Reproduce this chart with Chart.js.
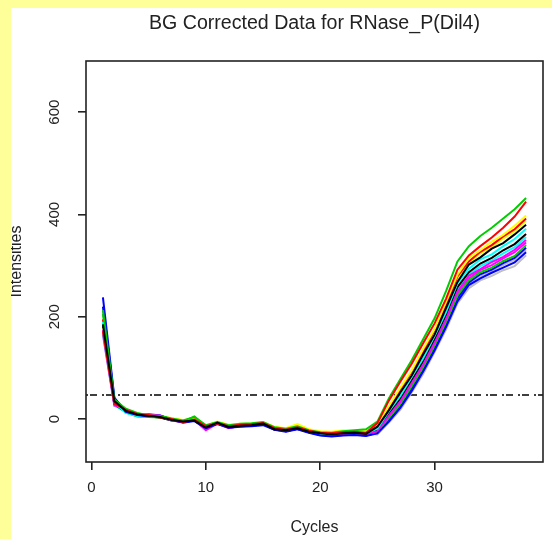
<!DOCTYPE html>
<html>
<head>
<meta charset="utf-8">
<script src="https://cdn.jsdelivr.net/npm/chart.js@4/dist/chart.umd.min.js"></script>
<style>
  body { margin: 0; background: #ffff99; width: 552px; height: 539px; overflow: hidden; }
  #panel { position: absolute; left: 11px; top: 8px; width: 541px; height: 531px; background: #fff; }
  canvas { display: block; }
</style>
</head>
<body>
<div id="panel"><canvas id="chart" width="541" height="531"></canvas></div>
<script>
// --- data ---
const chartTitle = "BG Corrected Data for RNase_P(Dil4)";
const xTitle = "Cycles";
const yTitle = "Intensities";
const xTicks = [0, 10, 20, 30];
const yTicks = [0, 200, 400, 600];
const threshold = 47;

const cycles = [1, 2, 3, 4, 5, 6, 7, 8, 9, 10, 11, 12, 13, 14, 15, 16, 17, 18, 19,
  20, 21, 22, 23, 24, 25, 26, 27, 28, 29, 30, 31, 32, 33, 34, 35, 36, 37, 38];

const black1 = [185, 35, 16, 9, 6, 4, -2, -5, -3, -17, -7, -16, -13, -12, -9, -20, -22, -18, -25, -28, -30, -28, -27, -29, -15, 17, 52, 85, 126, 165, 217, 268, 302, 316, 333, 344, 361, 380];
const red1 = [172, 30, 18, 10, 8, 3, 0, -6, -1, -14, -9, -14, -11, -10, -8, -18, -21, -16, -23, -27, -28, -26, -25, -27, -8, 36, 73, 108, 148, 187, 235, 292, 320, 338, 355, 374, 396, 425];
const green1 = [213, 38, 20, 12, 7, 6, 1, -3, 4, -12, -6, -12, -9, -8, -6, -16, -19, -14, -22, -26, -27, -24, -22, -20, -5, 40, 78, 115, 156, 197, 250, 308, 338, 358, 374, 392, 410, 432];
const blue1 = [238, 42, 14, 8, 5, 7, -1, -7, -4, -18, -10, -17, -15, -14, -12, -21, -25, -20, -27, -32, -34, -32, -31, -33, -28, -5, 22, 55, 93, 134, 180, 230, 262, 275, 286, 296, 306, 326];
const cyan1 = [190, 33, 12, 6, 4, 5, -2, -4, -3, -16, -8, -15, -12, -11, -10, -19, -23, -17, -24, -29, -30, -27, -28, -28, -19, 15, 45, 82, 119, 162, 209, 265, 294, 312, 322, 338, 352, 372];
const magenta1 = [174, 28, 17, 7, 9, 6, -3, -6, -2, -22, -9, -18, -13, -12, -9, -20, -24, -19, -26, -30, -31, -29, -28, -30, -24, 6, 34, 70, 106, 149, 195, 249, 280, 293, 307, 317, 331, 350];
const yellow1 = [178, 34, 19, 11, 8, 5, 2, -2, 0, -13, -5, -11, -9, -9, -7, -15, -18, -10, -20, -24, -25, -22, -23, -24, -11, 25, 61, 95, 137, 176, 229, 282, 315, 330, 347, 360, 378, 398];
const gray1 = [176, 31, 15, 8, 6, 4, -1, -5, -2, -15, -8, -14, -12, -11, -9, -18, -22, -17, -24, -28, -29, -27, -27, -28, -30, -7, 18, 52, 88, 131, 175, 226, 256, 271, 280, 291, 299, 320];
const black2 = [182, 29, 14, 7, 5, 3, -3, -6, -3, -18, -8, -17, -14, -13, -10, -21, -23, -19, -25, -29, -30, -28, -28, -29, -21, 11, 40, 76, 113, 156, 203, 258, 287, 304, 315, 330, 342, 362];
const red2 = [195, 36, 17, 10, 7, 6, 0, -4, -1, -15, -7, -13, -11, -10, -8, -17, -20, -16, -23, -27, -28, -26, -25, -26, -13, 22, 58, 93, 131, 174, 222, 279, 308, 327, 340, 357, 371, 392];
const green2 = [205, 37, 13, 5, 4, 3, -2, -5, 5, -14, -9, -16, -12, -10, -8, -18, -22, -18, -25, -30, -31, -29, -30, -31, -26, 2, 28, 64, 100, 143, 188, 241, 271, 287, 296, 309, 319, 340];
const blue2 = [220, 40, 16, 9, 6, 5, -2, -6, -3, -17, -9, -15, -13, -12, -10, -19, -24, -19, -26, -31, -33, -31, -30, -32, -27, 0, 25, 61, 97, 140, 185, 237, 267, 283, 292, 305, 315, 335];
const cyan2 = [168, 27, 13, 6, 5, 4, -2, -5, -2, -16, -8, -14, -12, -11, -9, -19, -22, -17, -24, -28, -29, -27, -27, -28, -22, 9, 37, 73, 110, 153, 199, 253, 282, 299, 310, 324, 336, 356];
const magenta2 = [165, 26, 18, 9, 10, 7, -1, -4, -1, -20, -6, -15, -11, -10, -8, -18, -21, -16, -23, -27, -28, -26, -26, -27, -25, 4, 31, 67, 103, 146, 192, 245, 275, 291, 301, 314, 326, 345];
const yellow2 = [188, 32, 16, 10, 7, 6, 1, -3, 1, -14, -6, -12, -10, -9, -7, -16, -19, -12, -21, -25, -26, -23, -24, -25, -14, 20, 55, 89, 129, 172, 220, 276, 305, 324, 336, 353, 367, 388];
const gray2 = [170, 30, 15, 8, 6, 4, -1, -5, -2, -16, -8, -14, -12, -11, -9, -18, -22, -17, -24, -28, -29, -27, -27, -28, -28, -2, 23, 58, 95, 138, 182, 234, 264, 279, 289, 301, 311, 330];

// R palette colours, one per well
const series = [black1, red1, green1, blue1, cyan1, magenta1, yellow1, gray1,
  black2, red2, green2, blue2, cyan2, magenta2, yellow2, gray2];
const palette = ['#000000', '#ff0000', '#00cd00', '#0000ff', '#00ffff', '#ff00ff', '#ffff00', '#bebebe'];

const FONT = "'Liberation Sans', Arial, sans-serif";

const datasets = series.map((vals, i) => ({
  data: cycles.map((c, j) => ({ x: c, y: vals[j] })),
  borderColor: palette[i % palette.length],
  borderWidth: 2,
  pointRadius: 0,
  tension: 0
}));

// threshold line across the whole x range
datasets.push({
  data: [{ x: -0.48, y: threshold }, { x: 39.48, y: threshold }],
  borderColor: '#000',
  borderWidth: 1.5,
  borderDash: [2, 2, 7, 5],
  pointRadius: 0
});

// box, titles and rotated y labels like base R graphics
const rDecor = {
  id: 'rDecor',
  afterDraw(chart) {
    const { ctx, chartArea: a, scales } = chart;
    ctx.save();
    ctx.strokeStyle = '#222';
    ctx.lineWidth = 1.6;
    ctx.strokeRect(a.left, a.top, a.right - a.left, a.bottom - a.top);

    ctx.fillStyle = '#222';
    ctx.textAlign = 'center';
    ctx.textBaseline = 'middle';
    const cx = (a.left + a.right) / 2;
    ctx.font = '19.6px ' + FONT;
    ctx.fillText(chartTitle, cx, 16);
    ctx.font = '16px ' + FONT;
    ctx.fillText(xTitle, cx, 520);

    ctx.save();
    ctx.translate(6, (a.top + a.bottom) / 2);
    ctx.rotate(-Math.PI / 2);
    ctx.fillText(yTitle, 0, 0);
    ctx.restore();

    ctx.font = '15px ' + FONT;
    yTicks.forEach(v => {
      const y = scales.y.getPixelForValue(v);
      ctx.save();
      ctx.translate(44, y);
      ctx.rotate(-Math.PI / 2);
      ctx.fillText(String(v), 0, 0);
      ctx.restore();
    });
    ctx.restore();
  }
};

new Chart(document.getElementById('chart'), {
  type: 'line',
  data: { datasets },
  options: {
    responsive: false,
    animation: false,
    layout: { padding: { top: 53, right: 9, left: 0, bottom: 0 } },
    plugins: { legend: { display: false }, tooltip: { enabled: false } },
    scales: {
      x: {
        type: 'linear',
        min: -0.48,
        max: 39.48,
        afterBuildTicks: s => { s.ticks = xTicks.map(v => ({ value: v })); },
        afterFit: s => { s.height = 77; },
        border: { display: false },
        grid: { drawOnChartArea: false, drawTicks: true, tickLength: 8, color: '#222', lineWidth: 1.6 },
        ticks: { color: '#222', font: { family: FONT, size: 15 }, padding: 9, maxRotation: 0 }
      },
      y: {
        type: 'linear',
        min: -84,
        max: 700,
        afterBuildTicks: s => { s.ticks = yTicks.map(v => ({ value: v })); },
        afterFit: s => { s.width = 75; },
        border: { display: false },
        grid: { drawOnChartArea: false, drawTicks: true, tickLength: 8, color: '#222', lineWidth: 1.6 },
        ticks: { display: false }
      }
    }
  },
  plugins: [rDecor]
});
</script>
</body>
</html>
